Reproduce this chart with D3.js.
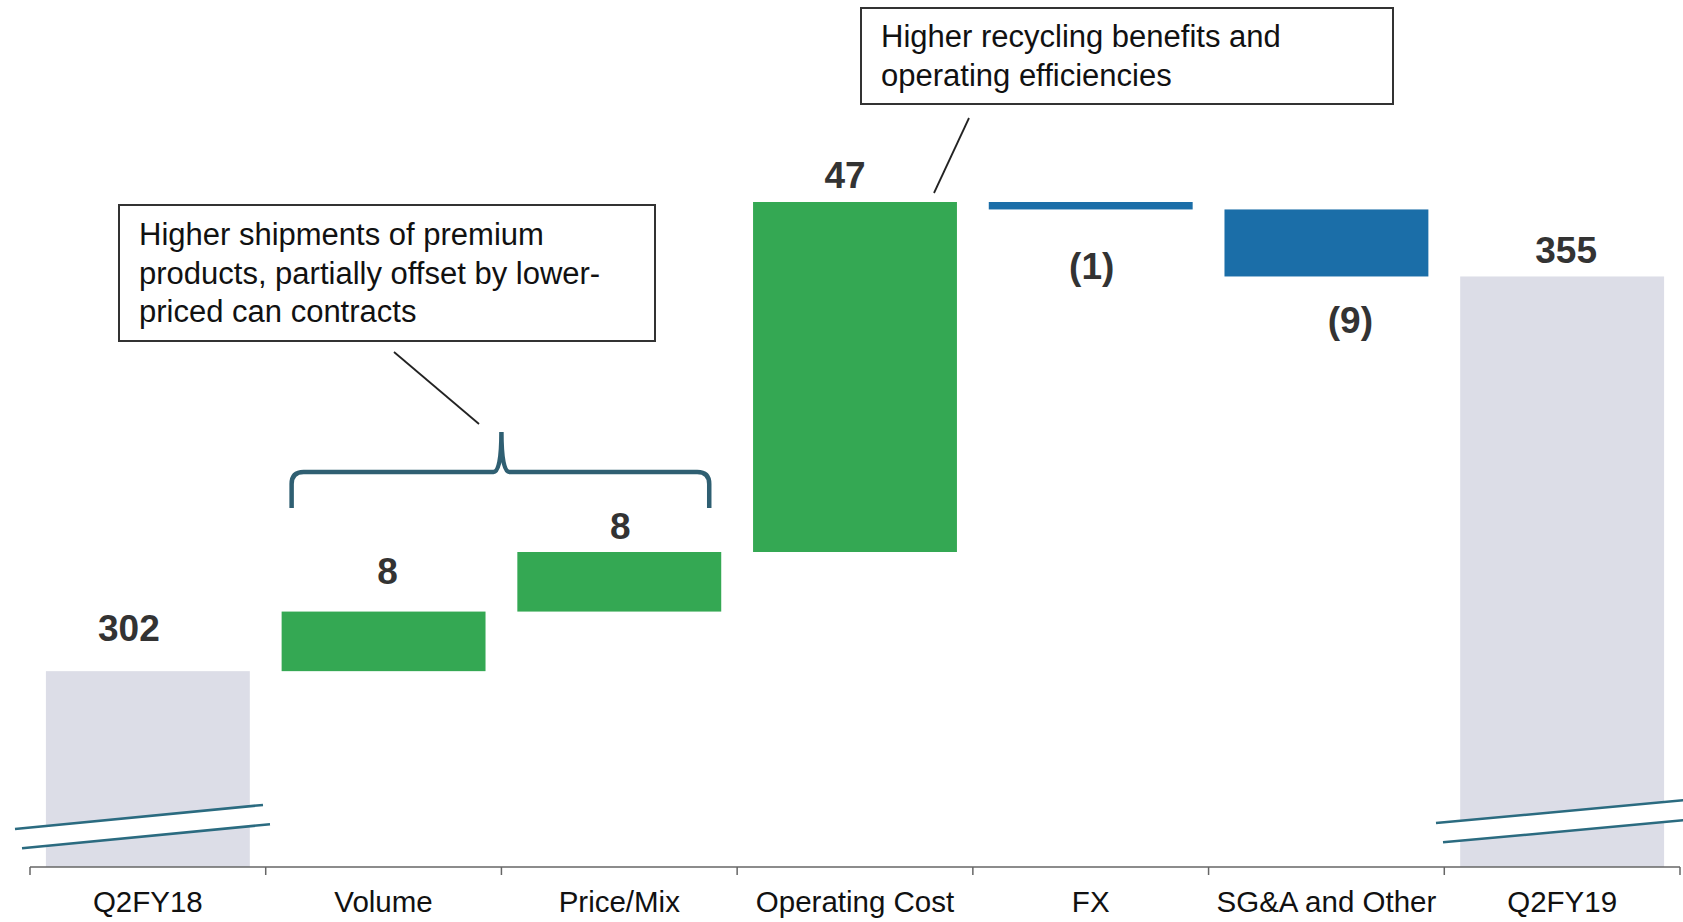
<!DOCTYPE html>
<html>
<head>
<meta charset="utf-8">
<script src="https://cdnjs.cloudflare.com/ajax/libs/d3/7.8.5/d3.min.js"></script>
<style>
  html, body { margin: 0; padding: 0; background: #fff; }
  svg { display: block; font-family: "Liberation Sans", Arial, sans-serif; }
</style>
</head>
<body>
<script>
//chart data
var categories = ["Q2FY18", "Volume", "Price/Mix", "Operating Cost", "FX", "SG&A and Other", "Q2FY19"];
var changes = [302, 8, 8, 47, -1, -9, 355]; //first and last are totals
var kinds = ["total", "step", "step", "step", "step", "step", "total"];
var valueLabels = ["302", "8", "8", "47", "(1)", "(9)", "355"];
var notes = [
    ["Higher shipments of premium", "products, partially offset by lower-", "priced can contracts"],
    ["Higher recycling benefits and", "operating efficiencies"]
];

//label nudges (dx, dy from the bar end)
var labelDx = [-19, 4, 1, -10, 1, 24, 4];
var labelDy = [-30, -28, -13, -14, 70, 57, -13];

var width = 1683, height = 922;

var svg = d3.select("body").append("svg")
    .attr("width", width)
    .attr("height", height);

//build running totals
var bars = [];
var running = 0;
for (var i = 0; i < categories.length; i++) {
    var d = {name: categories[i], kind: kinds[i], label: valueLabels[i], i: i};
    if (kinds[i] == "total") {
        d.start = null;
        d.end = changes[i];
        running = changes[i];
    } else {
        d.start = running;
        running = running + changes[i];
        d.end = running;
    }
    d.delta = changes[i];
    bars.push(d);
}

var x = d3.scaleBand()
    .domain(categories)
    .range([30, 1680])
    .paddingInner(0.135)
    .paddingOuter(0.0675);

//broken axis: bottom of the plot is not zero
var y = d3.scaleLinear()
    .domain([275.7, 365])
    .range([867, 202]);

function barColor(d) {
    if (d.kind == "total") return "#dcdde7";
    return d.delta >= 0 ? "#34a853" : "#1b6ea8";
}

svg.selectAll(".bar")
    .data(bars)
    .enter()
    .append("rect")
    .attr("class", "bar")
    .attr("x", function (d) { return x(d.name); })
    .attr("width", x.bandwidth())
    .attr("y", function (d) {
        if (d.kind == "total") return y(d.end);
        return y(Math.max(d.start, d.end));
    })
    .attr("height", function (d) {
        if (d.kind == "total") return y.range()[0] - y(d.end);
        return Math.abs(y(d.start) - y(d.end));
    })
    .style("fill", barColor);

//value labels
svg.selectAll(".value")
    .data(bars)
    .enter()
    .append("text")
    .attr("class", "value")
    .attr("text-anchor", "middle")
    .attr("x", function (d) { return x(d.name) + x.bandwidth() / 2 + labelDx[d.i]; })
    .attr("y", function (d) { return y(d.end) + labelDy[d.i]; })
    .style("font-size", "37px")
    .style("font-weight", "bold")
    .style("fill", "#333")
    .text(function (d) { return d.label; });

//axis break marks over the two total bars
function breakMark(x0, x1, yLeft, slope) {
    var gap = 20;
    var g = svg.append("g");
    g.append("polygon")
        .attr("points", [
            [x0, yLeft], [x1, yLeft + slope * (x1 - x0)],
            [x1 + 7, yLeft + gap + slope * (x1 - x0 + 7)], [x0 + 7, yLeft + gap + slope * 7]
        ].map(function (p) { return p.join(","); }).join(" "))
        .style("fill", "#fff");
    [0, gap].forEach(function (off, k) {
        g.append("line")
            .attr("x1", x0 + k * 7).attr("y1", yLeft + off + slope * k * 7)
            .attr("x2", x1 + k * 7).attr("y2", yLeft + off + slope * (x1 - x0 + k * 7))
            .style("stroke", "#2b6b80")
            .style("stroke-width", 2.5);
    });
}
breakMark(15, 263, 829, -0.097);
breakMark(1436, 1690, 823, -0.092);

//x axis
var step = x.step();
var axisY = y.range()[0];
var axis = svg.append("g").attr("class", "axis");
axis.append("line")
    .attr("x1", x.range()[0]).attr("x2", x.range()[1])
    .attr("y1", axisY).attr("y2", axisY)
    .style("stroke", "#666").style("stroke-width", 1.5);
d3.range(categories.length + 1).forEach(function (k) {
    var tx = x.range()[0] + k * step;
    axis.append("line")
        .attr("x1", tx).attr("x2", tx)
        .attr("y1", axisY).attr("y2", axisY + 8)
        .style("stroke", "#666").style("stroke-width", 1.5);
});
axis.selectAll(".cat")
    .data(categories)
    .enter()
    .append("text")
    .attr("class", "cat")
    .attr("text-anchor", "middle")
    .attr("x", function (d) { return x(d) + x.bandwidth() / 2; })
    .attr("y", 912)
    .style("font-size", "29.5px")
    .style("fill", "#111")
    .text(function (d) { return d; });

//callout boxes
function noteBox(lines, bx, by, bw, bh, tx, ty0, lh) {
    svg.append("rect")
        .attr("x", bx).attr("y", by)
        .attr("width", bw).attr("height", bh)
        .style("fill", "#fff")
        .style("stroke", "#333")
        .style("stroke-width", 2);
    svg.append("g").selectAll("text")
        .data(lines)
        .enter()
        .append("text")
        .attr("x", tx)
        .attr("y", function (d, i) { return ty0 + i * lh; })
        .style("font-size", "31px")
        .style("fill", "#111")
        .text(function (d) { return d; });
}
noteBox(notes[0], 119, 205, 536, 136, 139, 245, 38.5);
noteBox(notes[1], 861, 8, 532, 96, 881, 47, 38.5);

//leader lines
svg.append("line")
    .attr("x1", 394).attr("y1", 352).attr("x2", 479).attr("y2", 424)
    .style("stroke", "#222").style("stroke-width", 1.8);
svg.append("line")
    .attr("x1", 969).attr("y1", 118).attr("x2", 934).attr("y2", 193)
    .style("stroke", "#222").style("stroke-width", 1.8);

//brace over Volume and Price/Mix
var bl = x("Volume") + 10,
    br = x("Price/Mix") + x.bandwidth() - 12,
    bm = x("Price/Mix") - step * x.paddingInner() / 2,
    bBot = 508, bTop = 472, bPeak = 432;
var brace = d3.path();
brace.moveTo(bl, bBot);
brace.lineTo(bl, bTop + 12);
brace.quadraticCurveTo(bl, bTop, bl + 12, bTop);
brace.lineTo(bm - 8, bTop);
brace.quadraticCurveTo(bm, bTop, bm, bPeak);
brace.quadraticCurveTo(bm, bTop, bm + 8, bTop);
brace.lineTo(br - 12, bTop);
brace.quadraticCurveTo(br, bTop, br, bTop + 12);
brace.lineTo(br, bBot);
svg.append("path")
    .attr("d", brace.toString())
    .style("fill", "none")
    .style("stroke", "#2f5f72")
    .style("stroke-width", 4.5);
</script>
</body>
</html>
